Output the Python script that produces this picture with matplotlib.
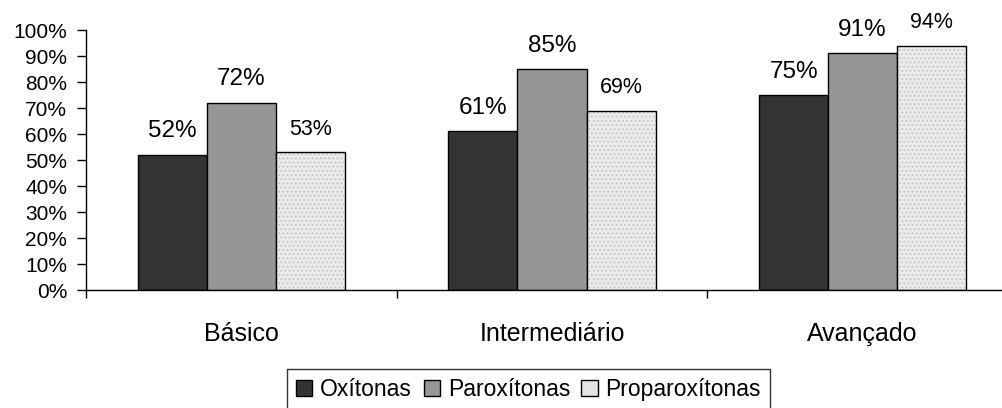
import numpy as np
import matplotlib
matplotlib.use("Agg")
import matplotlib.pyplot as plt
from matplotlib.patches import Patch

plt.rcParams['font.family'] = ['Liberation Sans', 'DejaVu Sans']

niveis = ["Básico", "Intermediário", "Avançado"]
oxitonas = [52, 61, 75]
paroxitonas = [72, 85, 91]
proparoxitonas = [53, 69, 94]

fig = plt.figure(figsize=(10.02, 4.08), dpi=100)
ax = fig.add_axes([86 / 1002, 118 / 408, 932 / 1002, 260 / 408])

x = np.arange(len(niveis))
w = 1 / 4.5

ax.bar(x - w, oxitonas, w, color="#333333", edgecolor="black", linewidth=1)
ax.bar(x, paroxitonas, w, color="#969696", edgecolor="black", linewidth=1)
# dotted fill for the third series: hatch layer then black outline
plt.rcParams['hatch.linewidth'] = 0.8
ax.bar(x + w, proparoxitonas, w, color="#ebebeb", edgecolor="#c4c4c4",
       hatch="....", linewidth=0)
ax.bar(x + w, proparoxitonas, w, fill=False, edgecolor="black", linewidth=1)

for i in range(len(niveis)):
    ax.annotate(f"{oxitonas[i]}%", (x[i] - w, oxitonas[i]), xytext=(0, 9),
                textcoords="offset points", ha="center", va="bottom", fontsize=17.5)
    ax.annotate(f"{paroxitonas[i]}%", (x[i], paroxitonas[i]), xytext=(0, 9),
                textcoords="offset points", ha="center", va="bottom", fontsize=17.5)
    ax.annotate(f"{proparoxitonas[i]}%", (x[i] + w, proparoxitonas[i]), xytext=(0, 9),
                textcoords="offset points", ha="center", va="bottom", fontsize=15.5)

ax.set_xlim(-0.5, 2.5)
ax.set_ylim(0, 100)
ax.set_yticks(range(0, 101, 10))
ax.set_yticklabels([f"{v}%" for v in range(0, 101, 10)], fontsize=15)
ax.set_xticks(x)
ax.set_xticklabels(niveis, fontsize=18)
ax.tick_params(axis="x", which="major", length=0, pad=23)
ax.set_xticks([-0.5, 0.5, 1.5, 2.5], minor=True)
ax.tick_params(axis="x", which="minor", length=6, width=1, direction="out")
ax.tick_params(axis="y", length=6.5, width=1, direction="out", pad=7)
for s in ["top", "right"]:
    ax.spines[s].set_visible(False)
ax.spines["left"].set_linewidth(1)
ax.spines["bottom"].set_linewidth(1)

handles = [
    Patch(facecolor="#333333", edgecolor="black"),
    Patch(facecolor="#969696", edgecolor="black"),
    Patch(facecolor="#e3e3e3", edgecolor="black"),
]
leg = fig.legend(handles, ["Oxítonas", "Paroxítonas", "Proparoxítonas"],
                 loc="upper left", bbox_to_anchor=(287 / 1002, 39 / 408), ncol=3,
                 fontsize=16.5, frameon=True, fancybox=False, edgecolor="black",
                 handlelength=0.7, handleheight=0.7, handletextpad=0.35,
                 columnspacing=0.5, borderpad=0.4, borderaxespad=0)
leg.get_frame().set_linewidth(1)

fig.savefig("out.png", dpi=100)
